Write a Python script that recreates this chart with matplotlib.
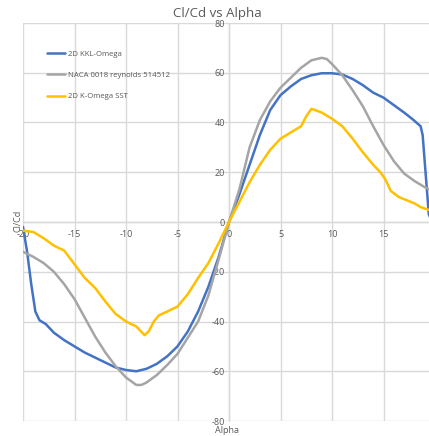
import matplotlib
matplotlib.use("Agg")
import matplotlib.pyplot as plt

# Cl/Cd versus angle of attack for three data sets
alpha_kkl = [-20, -19.6, -19.2, -18.8, -18.4, -17.8, -17, -16, -15, -14, -13, -12, -11,
             -10, -9, -8, -7, -6, -5, -4, -3, -2, -1, 0, 1, 2, 3, 4, 5, 6, 7, 8, 9,
             10, 11, 12, 13, 14, 15, 16, 17, 17.8, 18.6, 18.8, 19.4, 20]
clcd_kkl = [-2, -12, -25, -36, -39.5, -41, -44.5, -47.5, -50, -52.5, -54.5, -56.5, -58.5,
            -59.5, -60, -59, -57, -54, -50, -44, -36, -26, -14, 0, 11, 23, 35, 45, 51, 54.5,
            57.5, 59, 59.8, 59.8, 59.3, 57.5, 55, 52, 50, 47, 44, 41.4, 38.5, 35, 3, -2]

alpha_naca = [-20, -19, -18, -17, -16, -15, -14, -13, -12, -11, -10, -9, -8.5, -8, -7, -6,
              -5, -4, -3, -2, -1, 0, 1, 2, 3, 4, 5, 6, 7, 8, 9, 9.5, 10, 11, 12, 13, 14,
              15, 16, 17, 18, 19, 20]
clcd_naca = [-12, -14, -16.5, -20, -25, -31, -38.5, -46, -52.5, -58, -62.5, -65.5, -65.5,
             -64.5, -61.5, -57.5, -53, -46.5, -40, -29.5, -15, 0, 13, 30, 41, 48.5, 54, 58,
             62, 65, 66, 65.5, 63.5, 59, 53, 46.5, 38.5, 31, 24.5, 19.5, 16.5, 14, 12]

alpha_sst = [-20, -19, -18, -17, -16, -15, -14, -13, -12, -11, -10, -9, -8.2, -7.8, -7.3,
             -6.8, -6, -5, -4, -3, -2, -1, 0, 1, 2, 3, 4, 5, 6, 7, 7.5, 8, 9, 10, 11, 12,
             13, 14, 14.7, 15.2, 15.7, 16.5, 17.4, 18, 18.6, 19.3, 20]
clcd_sst = [-3.5, -4, -6.5, -9.5, -11.5, -17, -22.5, -26.5, -32, -37, -40, -42, -45.5, -44,
            -40, -37.5, -36, -34, -29, -22.5, -16.5, -8.5, 0, 8, 16, 23, 29, 33.5, 36, 38.5,
            42.5, 45.5, 44, 41.5, 38.5, 33.5, 28, 23, 20, 17, 12.5, 10, 8.5, 7.5, 6, 5, 4]

series_labels = ["2D KKL-Omega", "NACA 0018 reynolds 514512", "2D K-Omega SST"]
series_colors = ["#4472C4", "#A5A5A5", "#FFC000"]

x_ticks = [-20, -15, -10, -5, 0, 5, 10, 15, 20]
y_ticks = [-80, -60, -40, -20, 0, 20, 40, 60, 80]

text_color = "#595959"
grid_color = "#D9D9D9"

plt.rcParams["font.family"] = ["Open Sans", "DejaVu Sans"]

W, H = 429, 436
fig = plt.figure(figsize=(W / 100, H / 100), dpi=100)
ax = fig.add_axes([23 / W, (H - 421) / H, 412 / W, 398 / H])

for a, v, lab, col in zip([alpha_kkl, alpha_naca, alpha_sst],
                          [clcd_kkl, clcd_naca, clcd_sst],
                          series_labels, series_colors):
    ax.plot(a, v, color=col, lw=1.8, label=lab, solid_joinstyle="round",
            solid_capstyle="round", zorder=3)

ax.set_xlim(-20, 20)
ax.set_ylim(-80, 80)
ax.set_xticks(x_ticks)
ax.set_yticks(y_ticks)
ax.grid(True, color=grid_color, lw=1.0, zorder=0)

for s in ["top", "right"]:
    ax.spines[s].set_visible(False)
ax.spines["left"].set_position(("data", 0))
ax.spines["bottom"].set_position(("data", 0))
ax.spines["left"].set_color(grid_color)
ax.spines["bottom"].set_color(grid_color)
ax.spines["left"].set_linewidth(1.0)
ax.spines["bottom"].set_linewidth(1.0)
ax.spines["left"].set_zorder(1)
ax.spines["bottom"].set_zorder(1)

ax.tick_params(axis="both", length=0, labelsize=6.5, labelcolor=text_color)
ax.tick_params(axis="x", pad=6)
ax.tick_params(axis="y", pad=3)
ax.set_xticklabels([str(t) for t in x_ticks])
ax.set_yticklabels([str(t) for t in y_ticks])

fig.text(217 / W, 1 - 14 / H, "Cl/Cd vs Alpha", ha="center", va="center",
         fontsize=9.5, color=text_color)
fig.text(18 / W, 1 - 221 / H, "Cl/Cd", ha="center", va="center", rotation=90,
         fontsize=6.5, color=text_color)
fig.text(227 / W, 1 - 430 / H, "Alpha", ha="center", va="center",
         fontsize=6.5, color=text_color)

leg = ax.legend(loc="upper left", bbox_to_anchor=(44 / W, 1 - 47 / H),
                bbox_transform=fig.transFigure, frameon=False, fontsize=5.6,
                handlelength=2.3, handletextpad=0.35, labelspacing=1.8,
                labelcolor=text_color, borderaxespad=0)

fig.savefig("out.png", dpi=100, facecolor="white")
